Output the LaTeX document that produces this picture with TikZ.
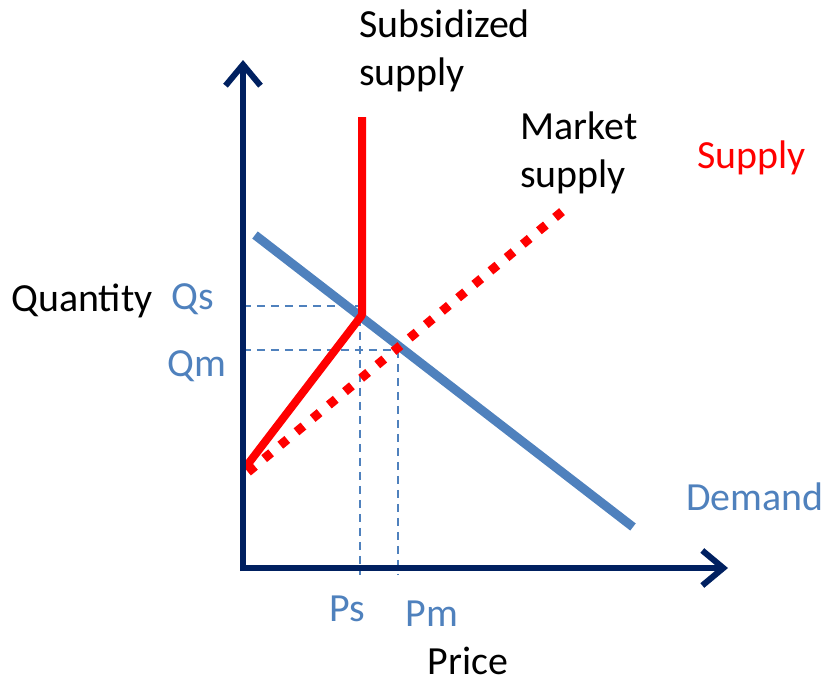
\documentclass[tikz,border=0pt]{standalone}
\usepackage{fontspec}
\setmainfont{Carlito}
\usetikzlibrary{arrows.meta}
\definecolor{axisnavy}{RGB}{0,32,96}
\definecolor{demandblue}{RGB}{79,129,189}
\definecolor{supplyred}{RGB}{255,0,0}
\tikzset{
  axisline/.style={draw=axisnavy,line width=0.12cm,-{Straight Barb[length=0.42cm,width=0.7cm]}},
  demandline/.style={draw=demandblue,line width=0.18cm},
  marketline/.style={draw=supplyred,line width=0.18cm,dash pattern=on 0.18cm off 0.24cm},
  subline/.style={draw=supplyred,line width=0.16cm,line join=round},
  guide/.style={draw=demandblue,line width=0.04cm,dash pattern=on 0.16cm off 0.12cm},
  lbl/.style={inner sep=0pt,font=\fontsize{22.7}{27.5}\selectfont,align=left}
}
\begin{document}
\begin{tikzpicture}[x=0.02cm,y=-0.02cm]
\useasboundingbox (0,0) rectangle (829,683);

\coordinate (O) at (243,568);
\coordinate (ytip) at (243,60);
\coordinate (xtip) at (728,568);
\coordinate (D1) at (255,235);
\coordinate (D2) at (633,527);
\coordinate (M1) at (248,472);
\coordinate (M2) at (570,205);
\coordinate (S1) at (245,468);
\coordinate (Skink) at (362,315);
\coordinate (S2) at (362,117);
\coordinate (QsA) at (243,306);
\coordinate (QsB) at (358,306);
\coordinate (QmA) at (243,350);
\coordinate (QmB) at (400,350);
\coordinate (PsA) at (360,318);
\coordinate (PsB) at (360,575);
\coordinate (PmA) at (398,350);
\coordinate (PmB) at (398,575);

\draw[guide] (QsA) -- (QsB);
\draw[guide] (QmA) -- (QmB);
\draw[guide] (PsA) -- (PsB);
\draw[guide] (PmA) -- (PmB);

\draw[demandline] (D1) -- (D2);
\draw[marketline] (M1) -- (M2);
\draw[subline] (S1) -- (Skink) -- (S2);

\draw[axisline] ([yshift=-0.06cm]O) -- (ytip);
\draw[axisline] ([xshift=-0.06cm]O) -- (xtip);

\node[lbl,anchor=west] (quantity) at (11,301) {Quantity};
\node[lbl,text=demandblue] (qs) at (193,299) {Qs};
\node[lbl,text=demandblue] (qm) at (197,366) {Qm};
\node[lbl,text=demandblue] (ps) at (347,609) {Ps};
\node[lbl,text=demandblue] (pm) at (432,614) {Pm};
\node[lbl] (price) at (468,661) {Price};
\node[lbl,anchor=west,text=demandblue] (demand) at (686,497) {Demand};
\node[lbl,anchor=west,text=supplyred] (supply) at (697,158) {Supply};
\node[lbl,anchor=west] (market) at (520,153) {Market\\supply};
\node[lbl,anchor=west] (subsidized) at (359,51) {Subsidized\\supply};
\end{tikzpicture}
\end{document}
